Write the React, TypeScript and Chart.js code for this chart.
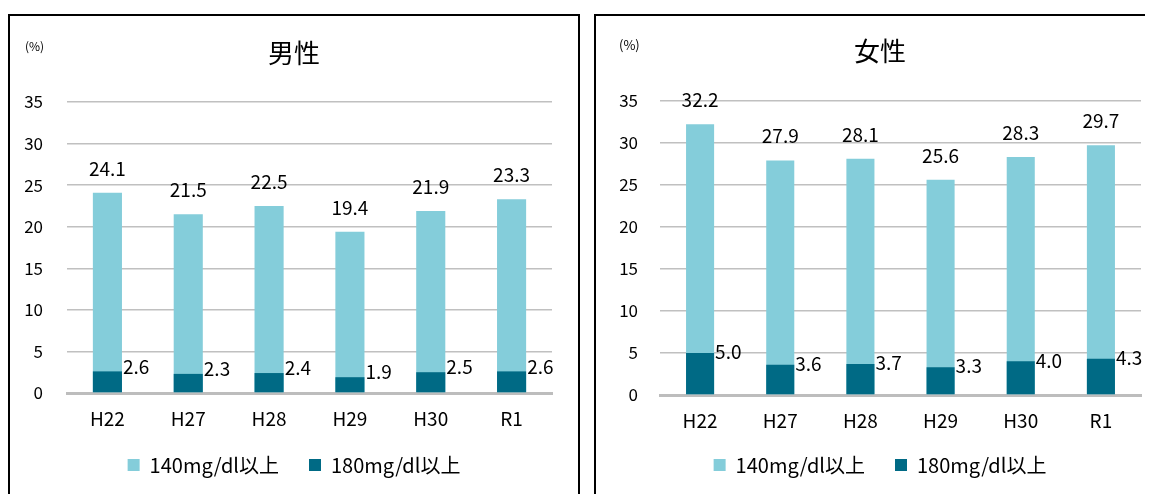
import React, { useEffect, useRef } from "react";
import { Chart, registerables } from "chart.js";

Chart.register(...registerables);

const categories = ["H22", "H27", "H28", "H29", "H30", "R1"];
const male140 = [24.1, 21.5, 22.5, 19.4, 21.9, 23.3];
const male180 = [2.6, 2.3, 2.4, 1.9, 2.5, 2.6];
const female140 = [32.2, 27.9, 28.1, 25.6, 28.3, 29.7];
const female180 = [5.0, 3.6, 3.7, 3.3, 4.0, 4.3];
const seriesLabels = ["140mg/dl以上", "180mg/dl以上"];
const titles = ["男性", "女性"];
const unitLabel = "(%)";
const yMin = 0;
const yMax = 35;
const yStep = 5;

const LIGHT = "#84CDDA";
const DARK = "#006A85";
const FONT = "'Noto Sans CJK JP', 'Noto Sans', sans-serif";

type PanelCfg = {
  title: string;
  high: number[];
  low: number[];
  rightPad: number;
  yWidth: number;
  yTickPad: number;
  titleTop: number;
  titleBottom: number;
  xHeight: number;
  xTickPad: number;
  barPct: number;
  unitX: number;
  unitY: number;
  unitSize: number;
  lowLabelDy: number;
};

function Panel({ cfg }: { cfg: PanelCfg }) {
  const ref = useRef<HTMLCanvasElement | null>(null);
  useEffect(() => {
    const canvas = ref.current;
    if (!canvas) return;
    const labelPlugin = {
      id: "valueLabels",
      afterDatasetsDraw(chart: any) {
        const ctx = chart.ctx;
        ctx.save();
        ctx.fillStyle = "#000";
        ctx.font = `19px ${FONT}`;
        chart.data.datasets.forEach((ds: any, di: number) => {
          const meta = chart.getDatasetMeta(di);
          meta.data.forEach((bar: any, i: number) => {
            const v = ds.data[i] as number;
            const txt = v.toFixed(1);
            if (ds.label === seriesLabels[0]) {
              ctx.textAlign = "center";
              ctx.textBaseline = "alphabetic";
              ctx.fillText(txt, bar.x, bar.y - 17);
            } else {
              ctx.textAlign = "left";
              ctx.textBaseline = "middle";
              ctx.fillText(txt, bar.x + bar.width / 2 + 1, bar.y + cfg.lowLabelDy);
            }
          });
        });
        ctx.restore();
      },
      afterDraw(chart: any) {
        const ctx = chart.ctx;
        ctx.save();
        ctx.fillStyle = "#000";
        ctx.font = `${cfg.unitSize}px ${FONT}`;
        ctx.textAlign = "left";
        ctx.textBaseline = "middle";
        ctx.fillText(unitLabel, cfg.unitX, cfg.unitY);
        ctx.restore();
      },
    };
    const chart = new Chart(canvas, {
      type: "bar",
      data: {
        labels: categories,
        datasets: [
          {
            label: seriesLabels[1],
            data: cfg.low,
            backgroundColor: DARK,
            grouped: false,
            barPercentage: cfg.barPct,
            categoryPercentage: 1,
          },
          {
            label: seriesLabels[0],
            data: cfg.high,
            backgroundColor: LIGHT,
            grouped: false,
            barPercentage: cfg.barPct,
            categoryPercentage: 1,
          },
        ],
      },
      options: {
        responsive: false,
        animation: false,
        devicePixelRatio: 1,
        layout: { padding: { top: 0, left: 0, right: 0, bottom: 9 } },
        plugins: {
          tooltip: { enabled: false },
          title: {
            display: true,
            text: cfg.title,
            color: "#000",
            font: { family: FONT, size: 26, weight: "normal" as any, lineHeight: 1.2 },
            padding: { top: cfg.titleTop, bottom: cfg.titleBottom },
          },
          legend: {
            display: true,
            position: "bottom",
            labels: {
              sort: (a: any, b: any) => b.datasetIndex - a.datasetIndex,
              color: "#000",
              font: { family: FONT, size: 20 },
              boxWidth: 12,
              boxHeight: 12,
              padding: 30,
            },
          },
        },
        scales: {
          x: {
            grid: { display: false, drawTicks: false },
            border: { display: true, color: "#BDBDBD", width: 3 },
            ticks: {
              color: "#000",
              font: { family: FONT, size: 19, lineHeight: 1.2 },
              padding: cfg.xTickPad,
            },
            afterFit: (s: any) => {
              s.height = cfg.xHeight;
              // let the category labels extend below the (short) axis box
              s._computeLabelArea = () => undefined;
            },
          },
          y: {
            min: yMin,
            max: yMax,
            grid: { color: "#C0C0C0", lineWidth: 1.5, drawTicks: false },
            border: { display: false },
            ticks: {
              stepSize: yStep,
              color: "#000",
              font: { family: FONT, size: 17 },
              padding: cfg.yTickPad,
            },
            afterFit: (s: any) => {
              s.width = cfg.yWidth;
            },
          },
          spacer: {
            type: "linear",
            position: "right",
            display: true,
            grid: { display: false, drawTicks: false },
            border: { display: false },
            ticks: { display: false },
            afterFit: (s: any) => {
              s.width = cfg.rightPad;
            },
          },
        },
      },
      plugins: [labelPlugin],
    });
    return () => chart.destroy();
  }, [cfg]);
  return <canvas ref={ref} width={568} height={478} style={{ display: "block" }} />;
}

const leftCfg: PanelCfg = {
  title: titles[0],
  high: male140,
  low: male180,
  rightPad: 26,
  yWidth: 57,
  yTickPad: 24,
  titleTop: 21.4,
  titleBottom: 33.4,
  xHeight: 32,
  xTickPad: 14,
  barPct: 0.36,
  unitX: 15,
  unitY: 30,
  unitSize: 12,
  lowLabelDy: -5,
};

const rightCfg: PanelCfg = {
  title: titles[1],
  high: female140,
  low: female180,
  rightPad: 23,
  yWidth: 64,
  yTickPad: 22,
  titleTop: 19.9,
  titleBottom: 33.6,
  xHeight: 30,
  xTickPad: 14,
  barPct: 0.35,
  unitX: 23,
  unitY: 29.5,
  unitSize: 13,
  lowLabelDy: -1,
};

export default function App() {
  useEffect(() => {
    document.documentElement.style.overflow = "hidden";
  }, []);
  const panelStyle = (left: number, width: number, rightBorder: boolean): React.CSSProperties => ({
    position: "absolute",
    left,
    top: 6,
    width,
    height: 480,
    borderTop: "2px solid #000",
    borderLeft: "2px solid #000",
    borderRight: rightBorder ? "2px solid #000" : "none",
    boxSizing: "border-box",
    background: "#fff",
  });
  return (
    <div style={{ position: "relative", width: 1137, height: 486 }}>
      <div style={panelStyle(0, 572, true)}>
        <Panel cfg={leftCfg} />
      </div>
      <div style={panelStyle(586, 559, false)}>
        <Panel cfg={rightCfg} />
      </div>
    </div>
  );
}
